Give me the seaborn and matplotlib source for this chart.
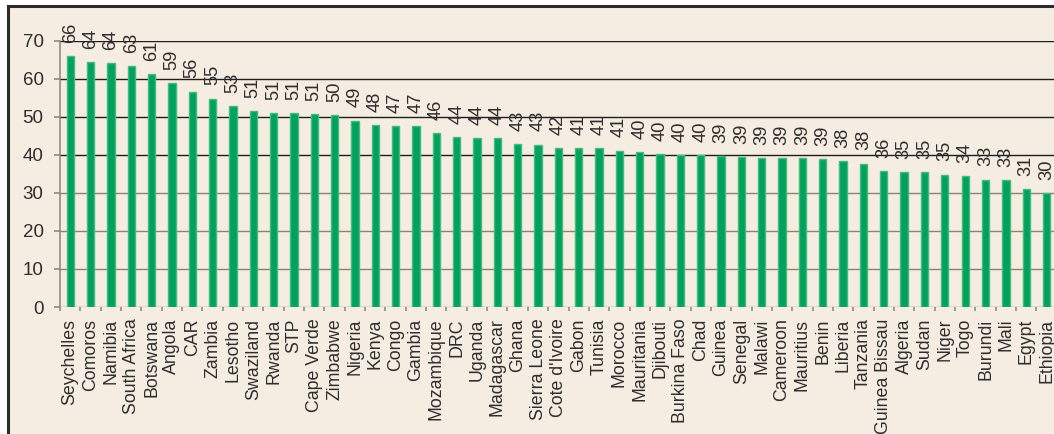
import matplotlib.pyplot as plt
import pandas as pd
import seaborn as sns
from matplotlib.patches import Rectangle
from matplotlib.ticker import FixedLocator, MultipleLocator

countries = [
    "Seychelles", "Comoros", "Namibia", "South Africa", "Botswana", "Angola", "CAR",
    "Zambia", "Lesotho", "Swaziland", "Rwanda", "STP", "Cape Verde", "Zimbabwe",
    "Nigeria", "Kenya", "Congo", "Gambia", "Mozambique", "DRC", "Uganda", "Madagascar",
    "Ghana", "Sierra Leone", "Cote d'Ivoire", "Gabon", "Tunisia", "Morocco", "Mauritania",
    "Djibouti", "Burkina Faso", "Chad", "Guinea", "Senegal", "Malawi", "Cameroon",
    "Mauritius", "Benin", "Liberia", "Tanzania", "Guinea Bissau", "Algeria", "Sudan",
    "Niger", "Togo", "Burundi", "Mali", "Egypt", "Ethiopia",
]
# bar heights
values = [
    66.0, 64.4, 64.2, 63.4, 61.2, 58.8, 56.6, 54.8, 52.8, 51.5, 51.0, 51.0, 50.7, 50.4,
    49.0, 47.8, 47.5, 47.5, 45.8, 44.6, 44.5, 44.3, 42.9, 42.7, 41.7, 41.7, 41.7, 41.1,
    40.7, 40.1, 40.0, 40.0, 39.7, 39.5, 39.2, 39.2, 39.2, 38.9, 38.3, 37.7, 35.7, 35.5,
    35.5, 34.8, 34.5, 33.5, 33.3, 31.0, 29.9,
]
# printed labels above the bars
labels = [
    66, 64, 64, 63, 61, 59, 56, 55, 53, 51, 51, 51, 51, 50, 49, 48, 47, 47, 46, 44, 44,
    44, 43, 43, 42, 41, 41, 41, 40, 40, 40, 40, 39, 39, 39, 39, 39, 39, 38, 38, 36, 35,
    35, 35, 34, 33, 33, 31, 30,
]
y_ticks = [0, 10, 20, 30, 40, 50, 60, 70]

BG = "#f5ede1"
GREEN = "#00a25e"
EDGE = "#45bb7c"
GREY = "#8a8275"
TEXT = "#2e2e2e"

sns.set_theme(style="white")
plt.rcParams["font.family"] = ["Liberation Sans", "DejaVu Sans"]

df = pd.DataFrame({"country": countries, "value": values})

fig = plt.figure(figsize=(10.54, 4.34), dpi=100)
fig.patch.set_facecolor("white")
# framed panel, cropped on the right and bottom
frame = Rectangle((8 / 1054, -0.2), 1.2, 1.2 - 6 / 434,
                  transform=fig.transFigure, facecolor=BG,
                  edgecolor="#2b2b2b", linewidth=2.2, zorder=-5)
fig.patches.append(frame)

ax = fig.add_axes([60 / 1054, 127 / 434, 996.7 / 1054, 266.3 / 434])
ax.set_zorder(2)
ax.patch.set_alpha(0)

sns.barplot(data=df, x="country", y="value", color=GREEN, saturation=1,
            width=0.36, edgecolor=EDGE, linewidth=1.0, ax=ax, zorder=3)

ax.set_xlim(-0.5, len(countries) - 0.5)
ax.set_ylim(0, 70)
ax.set_xlabel("")
ax.set_ylabel("")

ax.yaxis.set_major_locator(FixedLocator(y_ticks))
ax.yaxis.grid(True, linewidth=1.0)
for val, line in zip(y_ticks, ax.get_ygridlines()):
    line.set_color("#1e1e1e" if val >= 40 else GREY)
ax.set_axisbelow(True)

for side in ["top", "right", "bottom"]:
    ax.spines[side].set_visible(False)
ax.spines["left"].set_color(GREY)
ax.spines["left"].set_linewidth(1.1)

ax.tick_params(axis="y", which="major", left=True, length=4.3, width=1.1,
               color=GREY, pad=7.5, labelsize=13.5, labelcolor=TEXT)
ax.xaxis.set_minor_locator(MultipleLocator(1, offset=0.5))
ax.tick_params(axis="x", which="major", bottom=True, length=0, pad=8.3,
               labelsize=12.8, labelcolor=TEXT, labelrotation=90)
ax.tick_params(axis="x", which="minor", bottom=True, length=3.2, width=1.1,
               color=GREY)
ax.set_xticks(range(len(countries)))
ax.set_xticklabels(countries, rotation=90, va="top", ha="center")

for i, (v, lab) in enumerate(zip(values, labels)):
    ax.annotate(str(lab), xy=(i, v), xytext=(0, 9.5), textcoords="offset points",
                rotation=90, ha="center", va="bottom", fontsize=13.2,
                color=TEXT, annotation_clip=False)

fig.savefig("out.png", dpi=100, facecolor=fig.get_facecolor())
